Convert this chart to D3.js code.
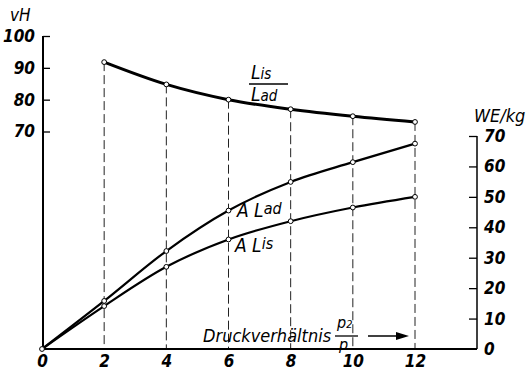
<!DOCTYPE html>
<html>
<head>
<meta charset="utf-8">
<script src="https://cdn.jsdelivr.net/npm/d3@7"></script>
<style>
  body { margin: 0; background: #fff; }
  svg text { font-family: "DejaVu Sans Condensed", "DejaVu Sans", sans-serif; font-style: italic; fill: #000; }
</style>
</head>
<body>
<div id="chart"></div>
<script>
// pressure ratio p2/p
const ratios = [0, 2, 4, 6, 8, 10, 12];
const ratioPts = [2, 4, 6, 8, 10, 12];
// L_is / L_ad in vH (left axis)
const efficiency = [91.8, 84.8, 80.0, 77.0, 74.8, 73.0];
// A L_ad and A L_is in WE/kg (right axis)
const workAd = [0, 15.8, 32.2, 45.5, 54.9, 61.4, 67.5];
const workIs = [0, 14.1, 27.0, 36.0, 42.0, 46.5, 50.0];
const leftTicks = [70, 80, 90, 100];
const rightTicks = [0, 10, 20, 30, 40, 50, 60, 70];
const xTicks = [0, 2, 4, 6, 8, 10, 12];

const width = 532, height = 372;
const svg = d3.select("#chart").append("svg")
  .attr("width", width).attr("height", height);

const x = d3.scaleLinear().domain([0, 12]).range([42, 415]);
const yL = d3.scaleLinear().domain([70, 100]).range([131.5, 36]);
const yR = d3.scaleLinear().domain([0, 70]).range([349, 136]);
const baseY = yR(0);
const leftX = 43, rightX = 477;

// dashed guide lines from the top curve down to the axis
svg.selectAll("line.guide").data(ratioPts.map((r, i) => ({ r, v: efficiency[i] })))
  .join("line")
  .attr("x1", d => x(d.r)).attr("x2", d => x(d.r))
  .attr("y1", d => yL(d.v)).attr("y2", baseY)
  .attr("stroke", "#222").attr("stroke-width", 1)
  .attr("stroke-dasharray", "9,4");

// axes lines
svg.append("line").attr("x1", leftX).attr("x2", leftX).attr("y1", yL(100)).attr("y2", baseY)
  .attr("stroke", "#000").attr("stroke-width", 2);
svg.append("line").attr("x1", rightX).attr("x2", rightX).attr("y1", yR(70)).attr("y2", baseY)
  .attr("stroke", "#000").attr("stroke-width", 1.5);
svg.append("line").attr("x1", leftX - 1).attr("x2", rightX).attr("y1", baseY).attr("y2", baseY)
  .attr("stroke", "#000").attr("stroke-width", 2);

const left = svg.append("g").attr("transform", `translate(${leftX},0)`)
  .call(d3.axisLeft(yL).tickValues(leftTicks).tickSizeInner(-7).tickSizeOuter(0).tickPadding(8));
const right = svg.append("g").attr("transform", `translate(${rightX},0)`)
  .call(d3.axisRight(yR).tickValues(rightTicks).tickSizeInner(-8).tickSizeOuter(0).tickPadding(7));
const bottom = svg.append("g").attr("transform", `translate(0,${baseY})`)
  .call(d3.axisBottom(x).tickValues(xTicks).tickSize(0).tickPadding(6));

[left, right, bottom].forEach(g => {
  g.select(".domain").remove();
  g.selectAll("line").attr("stroke", "#000").attr("stroke-width", 1.3);
  g.selectAll("text").attr("font-size", 17).attr("font-weight", "bold")
    .attr("font-family", null).attr("fill", "#000");
});
right.selectAll(".tick").filter(d => d === 0).select("line").remove();

// curves
const line = d3.line().curve(d3.curveMonotoneX);
svg.append("path")
  .attr("d", line(ratioPts.map((r, i) => [x(r), yL(efficiency[i])])))
  .attr("fill", "none").attr("stroke", "#000").attr("stroke-width", 3);
svg.append("path")
  .attr("d", line(ratios.map((r, i) => [x(r), yR(workAd[i])])))
  .attr("fill", "none").attr("stroke", "#000").attr("stroke-width", 2.2);
svg.append("path")
  .attr("d", line(ratios.map((r, i) => [x(r), yR(workIs[i])])))
  .attr("fill", "none").attr("stroke", "#000").attr("stroke-width", 2.2);

// open circle markers
const pts = ratioPts.map((r, i) => [x(r), yL(efficiency[i])])
  .concat(ratios.map((r, i) => [x(r), yR(workAd[i])]))
  .concat(ratios.slice(1).map((r, i) => [x(r), yR(workIs[i + 1])]));
svg.selectAll("circle.pt").data(pts).join("circle")
  .attr("cx", d => d[0]).attr("cy", d => d[1]).attr("r", 2.4)
  .attr("fill", "#fff").attr("stroke", "#000").attr("stroke-width", 1);

// axis titles
svg.append("text").attr("x", 10).attr("y", 21).attr("font-size", 17).text("vH");
svg.append("text").attr("x", 474).attr("y", 122).attr("font-size", 18).text("WE/kg");

// L_is / L_ad fraction
const frac = svg.append("g");
const t1 = frac.append("text").attr("x", 251).attr("y", 79).attr("font-size", 19);
t1.append("tspan").text("L");
t1.append("tspan").attr("font-size", 15).text("is");
frac.append("line").attr("x1", 249).attr("x2", 288).attr("y1", 84).attr("y2", 84)
  .attr("stroke", "#000").attr("stroke-width", 1.5);
const t2 = frac.append("text").attr("x", 251).attr("y", 101).attr("font-size", 19);
t2.append("tspan").text("L");
t2.append("tspan").attr("font-size", 15).text("ad");

// curve labels
const la = svg.append("text").attr("x", 237).attr("y", 217).attr("font-size", 19);
la.append("tspan").text("A L");
la.append("tspan").attr("font-size", 16).attr("dy", -3).text("ad");
const li = svg.append("text").attr("x", 235).attr("y", 252).attr("font-size", 19);
li.append("tspan").text("A L");
li.append("tspan").attr("font-size", 16).attr("dy", -3).text("is");

// x-axis caption with fraction and arrow
svg.append("text").attr("x", 203).attr("y", 342).attr("font-size", 18).text("Druckverhältnis");
const pUp = svg.append("text").attr("x", 337).attr("y", 328).attr("font-size", 16);
pUp.append("tspan").text("p");
pUp.append("tspan").attr("font-size", 11).text("2");
svg.append("line").attr("x1", 335).attr("x2", 358).attr("y1", 336).attr("y2", 336)
  .attr("stroke", "#000").attr("stroke-width", 1.3);
svg.append("text").attr("x", 339).attr("y", 350).attr("font-size", 16).text("p");
svg.append("line").attr("x1", 368).attr("x2", 400).attr("y1", 336).attr("y2", 336)
  .attr("stroke", "#000").attr("stroke-width", 1.5);
svg.append("path").attr("d", "M396,332 L409,336 L396,340 Z").attr("fill", "#000");
</script>
</body>
</html>
